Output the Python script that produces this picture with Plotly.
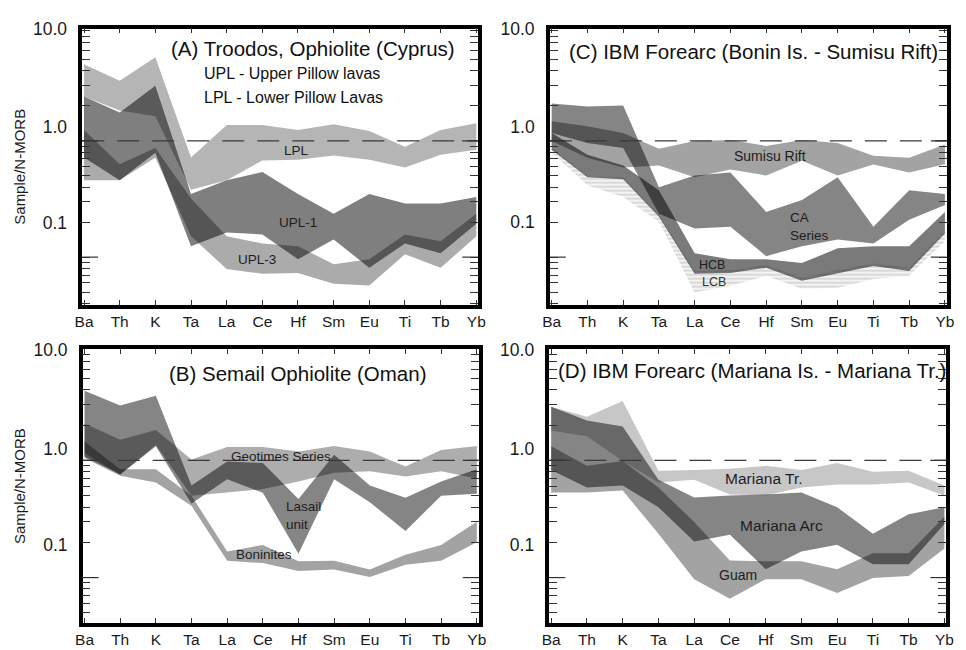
import plotly.graph_objects as go

W, H = 966, 650
FONT = "Liberation Sans, Arial, Helvetica, sans-serif"

elements = ["Ba", "Th", "K", "Ta", "La", "Ce", "Hf", "Sm", "Eu", "Ti", "Tb", "Yb"]

# ---------------- (A) Troodos ----------------
lpl_hi = [4.58, 3.29, 5.25, 0.72, 1.37, 1.37, 1.24, 1.39, 1.22, 0.89, 1.24, 1.42]
lpl_lo = [2.41, 1.83, 1.63, 0.38, 0.46, 0.68, 0.69, 0.75, 0.69, 0.59, 0.76, 0.84]
upl1_hi = [2.41, 1.76, 2.98, 0.35, 0.46, 0.54, 0.35, 0.236, 0.35, 0.29, 0.29, 0.33]
upl1_lo = [0.72, 0.46, 0.79, 0.124, 0.163, 0.157, 0.096, 0.142, 0.081, 0.131, 0.108, 0.194]
upl3_hi = [1.24, 0.63, 0.87, 0.32, 0.151, 0.131, 0.124, 0.087, 0.096, 0.157, 0.137, 0.236]
upl3_lo = [0.46, 0.46, 0.72, 0.151, 0.079, 0.072, 0.073, 0.059, 0.057, 0.106, 0.081, 0.151]

# ---------------- (B) Semail ----------------
geo_hi = [2.07, 1.50, 1.82, 1.02, 1.30, 1.30, 1.19, 1.33, 1.19, 0.89, 1.23, 1.33]
geo_lo = [1.16, 0.76, 1.36, 0.50, 0.53, 0.57, 0.66, 0.785, 0.81, 0.73, 0.81, 0.70]
las_hi = [3.94, 2.94, 3.57, 0.61, 0.98, 0.95, 0.47, 1.12, 0.61, 0.48, 0.66, 0.84]
las_lo = [1.08, 0.76, 1.32, 0.43, 0.69, 0.53, 0.16, 0.69, 0.44, 0.25, 0.50, 0.52]
bon_hi = [1.45, 0.84, 0.84, 0.50, 0.167, 0.19, 0.138, 0.139, 0.117, 0.157, 0.19, 0.30]
bon_lo = [1.05, 0.74, 0.65, 0.41, 0.139, 0.133, 0.114, 0.117, 0.101, 0.129, 0.139, 0.20]

# ---------------- (C) Bonin - Sumisu ----------------
sum_hi = [1.48, 1.34, 1.17, 0.855, 1.0, 1.02, 0.907, 1.02, 0.962, 0.746, 0.718, 0.93]
sum_lo = [1.0, 0.718, 0.59, 0.614, 0.486, 0.568, 0.505, 0.677, 0.505, 0.626, 0.536, 0.63]
ca_hi = [2.10, 1.98, 2.02, 0.40, 0.505, 0.536, 0.245, 0.31, 0.486, 0.183, 0.377, 0.349]
ca_lo = [1.17, 0.962, 0.87, 0.236, 0.176, 0.183, 0.102, 0.124, 0.142, 0.131, 0.21, 0.281]
hcb_hi = [1.17, 0.76, 0.614, 0.377, 0.108, 0.096, 0.096, 0.089, 0.119, 0.124, 0.124, 0.245]
hcb_lo = [0.84, 0.486, 0.467, 0.223, 0.0718, 0.073, 0.081, 0.0626, 0.073, 0.084, 0.076, 0.16]
lcb_hi = [0.87, 0.50, 0.486, 0.231, 0.076, 0.0776, 0.0855, 0.0664, 0.0776, 0.088, 0.081, 0.166]
lcb_lo = [0.80, 0.416, 0.329, 0.202, 0.0495, 0.0568, 0.069, 0.0535, 0.0546, 0.065, 0.069, 0.137]

# ---------------- (D) Mariana ----------------
tr_hi = [2.87, 2.36, 3.22, 0.816, 0.83, 0.85, 0.90, 0.83, 0.953, 0.80, 0.816, 0.61]
tr_lo = [1.80, 1.61, 0.99, 0.647, 0.686, 0.513, 0.503, 0.587, 0.622, 0.622, 0.647, 0.50]
arc_hi = [2.87, 2.19, 1.95, 0.686, 0.484, 0.503, 0.513, 0.533, 0.399, 0.237, 0.348, 0.399]
arc_lo = [0.83, 0.587, 0.61, 0.399, 0.203, 0.232, 0.118, 0.167, 0.191, 0.130, 0.130, 0.287]
guam_hi = [1.32, 0.90, 0.99, 0.587, 0.298, 0.140, 0.138, 0.138, 0.118, 0.161, 0.161, 0.33]
guam_lo = [0.533, 0.533, 0.554, 0.237, 0.097, 0.066, 0.097, 0.097, 0.074, 0.099, 0.103, 0.177]

ytick_text = ["10.0", "1.0", "0.1"]
major_levels = [0.1, 1.0, 10.0]
ref_level = 1.0

fig = go.Figure()


def band(hi, lo, fill, xa, ya, name, pattern=None):
    kw = {}
    if pattern is not None:
        kw["fillpattern"] = pattern
    fig.add_trace(go.Scatter(
        x=elements + elements[::-1], y=hi + lo[::-1], fill="toself",
        fillcolor=fill, mode="lines", line=dict(width=0),
        xaxis=xa, yaxis=ya, name=name, hoverinfo="skip", showlegend=False, **kw))


# A
band(lpl_hi, lpl_lo, "rgba(0,0,0,0.29)", "x", "y", "LPL")
band(upl1_hi, upl1_lo, "rgba(0,0,0,0.50)", "x", "y", "UPL-1")
band(upl3_hi, upl3_lo, "rgba(0,0,0,0.33)", "x", "y", "UPL-3")
# C
band(lcb_hi, lcb_lo, "rgba(0,0,0,0)", "x2", "y2", "LCB",
     pattern=dict(shape="-", fgcolor="#a8a8a8", bgcolor="rgba(235,235,235,0.6)", size=4, solidity=0.35))
band(sum_hi, sum_lo, "rgba(0,0,0,0.36)", "x2", "y2", "Sumisu Rift")
band(ca_hi, ca_lo, "rgba(0,0,0,0.48)", "x2", "y2", "CA Series")
band(hcb_hi, hcb_lo, "rgba(0,0,0,0.52)", "x2", "y2", "HCB")
# B
band(geo_hi, geo_lo, "rgba(0,0,0,0.32)", "x3", "y3", "Geotimes Series")
band(las_hi, las_lo, "rgba(0,0,0,0.48)", "x3", "y3", "Lasail unit")
band(bon_hi, bon_lo, "rgba(0,0,0,0.36)", "x3", "y3", "Boninites")
# D
band(tr_hi, tr_lo, "rgba(0,0,0,0.22)", "x4", "y4", "Mariana Tr.")
band(arc_hi, arc_lo, "rgba(0,0,0,0.48)", "x4", "y4", "Mariana Arc")
band(guam_hi, guam_lo, "rgba(0,0,0,0.36)", "x4", "y4", "Guam")


def px_dom(a, b, total, flip=False):
    if flip:
        return [1 - b / total, 1 - a / total]
    return [a / total, b / total]


panels = {
    # name: (x px range, y px range, y range in log10, scanned label positions)
    "1": ((75.5, 478.0), (19.0, 299.5), [0.966, -1.411], [9.2, 1.33, 0.197]),
    "2": ((551.0, 954.5), (19.0, 299.5), [0.966, -1.411], [9.2, 1.31, 0.20]),
    "3": ((76.0, 478.5), (344.5, 622.5), [0.950, -1.387], [8.8, 1.25, 0.191]),
    "4": ((550.5, 954.0), (344.5, 622.5), [0.950, -1.387], [8.8, 1.25, 0.191]),
}

minor_vals = [0.02, 0.03, 0.04, 0.05, 0.06, 0.07, 0.08, 0.09, 0.1,
              0.2, 0.3, 0.4, 0.5, 0.6, 0.7, 0.8, 0.9, 1.0,
              2, 3, 4, 5, 6, 7, 8, 9, 10]

layout = dict(width=W, height=H, margin=dict(l=0, r=0, t=0, b=0),
              paper_bgcolor="white", plot_bgcolor="white", showlegend=False,
              font=dict(family=FONT, color="#111"))

for k, (xp, yp, yr, labpos) in panels.items():
    sx = "" if k == "1" else k
    layout["xaxis" + sx] = dict(
        type="category", categoryorder="array", categoryarray=elements,
        range=[-0.05, 11.05], domain=px_dom(xp[0], xp[1], W), anchor="y" + sx,
        showline=True, linewidth=3.5, linecolor="black", mirror="ticks",
        ticks="inside", ticklen=5, tickwidth=1.2, tickcolor="#333",
        tickfont=dict(size=15.5, family=FONT, color="#1a1a1a"),
        showgrid=False, zeroline=False, fixedrange=True)
    ycfg = dict(
        type="log", range=[yr[1], yr[0]], domain=px_dom(yp[0], yp[1], H, flip=True),
        anchor="x" + sx, showline=True, linewidth=3.5, linecolor="black", mirror="ticks",
        ticks="", tickmode="array", tickvals=labpos, ticktext=ytick_text,
        ticklabelstandoff=8,
        tickfont=dict(size=17.5, family=FONT, color="#1a1a1a"),
        showgrid=False, zeroline=False,
        minor=dict(tickmode="array", tickvals=minor_vals, ticks="inside", ticklen=8,
                   tickwidth=1, tickcolor="#333"),
        fixedrange=True)
    if k in ("1", "3"):
        ycfg["title"] = dict(text="Sample/N-MORB", standoff=5,
                             font=dict(size=15, family=FONT, color="#1a1a1a"))
    layout["yaxis" + sx] = ycfg

fig.update_layout(**layout)

for sx in ["", "2", "3", "4"]:
    # N-MORB reference dashed line
    fig.add_shape(type="line", xref=("x" + sx) + " domain", x0=0, x1=1,
                  yref="y" + sx, y0=ref_level, y1=ref_level,
                  line=dict(color="#3a3a3a", width=1.3, dash="22px,13px"))
    # long decade ticks on both sides
    for lv in major_levels[:2]:
        for x0, x1 in ((0, 0.04), (0.96, 1)):
            fig.add_shape(type="line", xref=("x" + sx) + " domain", x0=x0, x1=x1,
                          yref="y" + sx, y0=lv, y1=lv,
                          line=dict(color="#333", width=1.2))


def ann(xpx, ypx, text, size=13, anchor="center", color="#1e1e1e", align="center"):
    fig.add_annotation(x=xpx / W, y=1 - ypx / H, xref="paper", yref="paper",
                       text=text, showarrow=False, xanchor=anchor, yanchor="middle",
                       align=align,
                       font=dict(size=size, family=FONT, color=color))


# panel titles
ann(164, 39, "(A) Troodos, Ophiolite (Cyprus)", 20.5, "left", "#111")
ann(197, 65, "UPL - Upper Pillow lavas", 16, "left", "#111")
ann(197, 89, "LPL - Lower Pillow Lavas", 16, "left", "#111")
ann(568, 42, "(C) IBM Forearc (Bonin Is. - Sumisu Rift)", 20.5, "left", "#111")
ann(162, 369, "(B) Semail Ophiolite (Oman)", 20.5, "left", "#111")
ann(557, 366, "(D) IBM Forearc (Mariana Is. - Mariana Tr.)", 20.5, "left", "#111")

# band labels
ann(293, 143, "LPL", 13.5)
ann(295, 216, "UPL-1", 13.5)
ann(253, 253, "UPL-3", 13.5)
ann(775, 148, "Sumisu Rift", 14)
ann(793, 220, "CA<br>Series", 13.5, "left", align="left")
ann(716, 259, "HCB", 12.5)
ann(718, 276, "LCB", 12.5, color="#333")
ann(278, 453, "Geotimes Series", 13.5)
ann(281, 513, "Lasail<br>unit", 13.5, "left", align="left")
ann(260, 553, "Boninites", 13.5)
ann(769, 476, "Mariana Tr.", 15.5)
ann(787, 524, "Mariana Arc", 15.5)
ann(742, 574, "Guam", 14)

fig.write_html("out.html", config={"displayModeBar": False},
               post_script="document.body.style.margin='0px';")
